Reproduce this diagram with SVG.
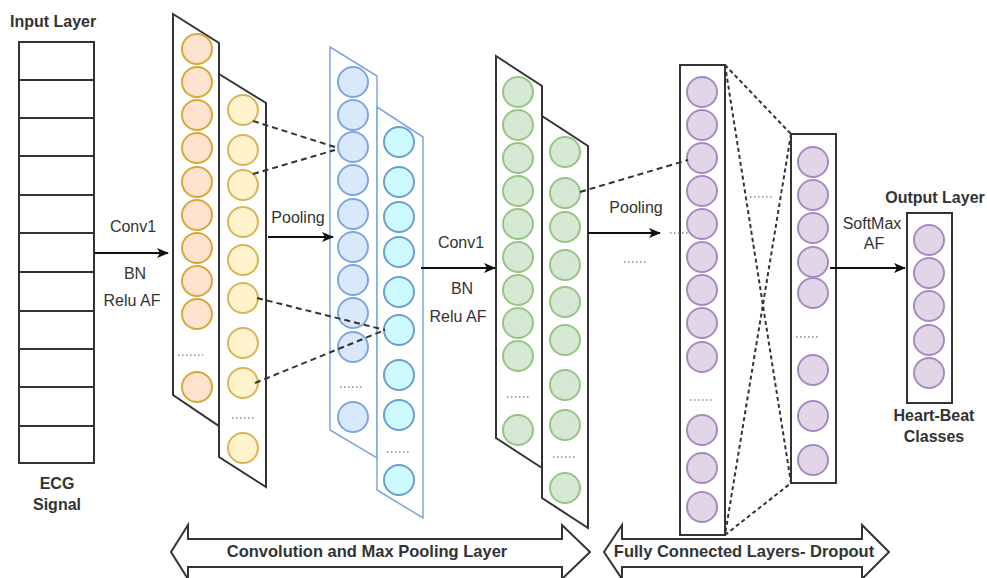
<svg xmlns="http://www.w3.org/2000/svg" width="987" height="578" viewBox="0 0 987 578">
  <style>
    .frame { fill: #ffffff; stroke: #333333; stroke-width: 2; }
    .bframe { fill: #ffffff; stroke: #7ea6e0; stroke-width: 1.5; }
    .grid { stroke: #333333; stroke-width: 2; fill: none; }
    .c-or { fill: #fde3cf; stroke: #d6a838; stroke-width: 2; }
    .c-ye { fill: #fff2cc; stroke: #d6b656; stroke-width: 2; }
    .c-bl { fill: #dae8fc; stroke: #7ea6e0; stroke-width: 2; }
    .c-cy { fill: #ccfaff; stroke: #6c9ecf; stroke-width: 2; }
    .c-gr { fill: #d5e8d4; stroke: #97c583; stroke-width: 2; }
    .c-pu { fill: #e1d5e7; stroke: #a68bc0; stroke-width: 2; }
    .dots { stroke: #888888; stroke-width: 1.3; stroke-dasharray: 1.5 2.5; fill: none; }
    .arrow { stroke: #111111; stroke-width: 2; fill: none; marker-end: url(#head); }
    .dash { stroke: #333333; stroke-width: 2; stroke-dasharray: 6 4; fill: none; }
    .dash2 { stroke: #333333; stroke-width: 2; stroke-dasharray: 4 3; fill: none; }
    .band { fill: #ffffff; stroke: #333333; stroke-width: 2; }
    text { font-family: "Liberation Sans", Arial, sans-serif; fill: #333333; }
    .lbl { font-size: 16px; }
    .ttl { font-size: 16px; font-weight: bold; }
    .band-t { font-size: 16.5px; font-weight: bold; }
  </style>
  <defs>
    <marker id="head" markerWidth="12" markerHeight="10" refX="11" refY="5" orient="auto" markerUnits="userSpaceOnUse">
      <path d="M0,0 L12,5 L0,10 L3,5 z" fill="#111111"/>
    </marker>
  </defs>

  <!-- input layer: ECG signal buffer -->
  <g id="input-layer">
    <text class="ttl" x="10" y="27">Input Layer</text>
    <rect class="grid" x="19" y="42" width="75" height="421"/>
    <path class="grid" d="M19,80H94M19,118H94M19,156H94M19,195H94M19,233H94M19,272H94M19,311H94M19,349H94M19,387H94M19,426H94"/>
    <text class="ttl" x="57" y="489" text-anchor="middle">ECG</text>
    <text class="ttl" x="57" y="510" text-anchor="middle">Signal</text>
  </g>

  <!-- first convolution block -->
  <g id="conv1-a">
    <polygon class="frame" points="173,14 219,43 219,426 173,395"/>
    <g class="c-or">
      <circle cx="197" cy="49" r="15"/><circle cx="197" cy="82" r="15"/><circle cx="197" cy="115" r="15"/>
      <circle cx="197" cy="148" r="15"/><circle cx="197" cy="182" r="15"/><circle cx="197" cy="215" r="15"/>
      <circle cx="197" cy="248" r="15"/><circle cx="197" cy="281" r="15"/><circle cx="197" cy="314" r="15"/>
      <circle cx="197" cy="387" r="15"/>
    </g>
    <path class="dots" d="M178,355H203"/>
  </g>
  <g id="conv1-b">
    <polygon class="frame" points="219,74 266,103 266,487 219,457"/>
    <g class="c-ye">
      <circle cx="243" cy="110" r="15"/><circle cx="243" cy="150" r="15"/><circle cx="243" cy="185" r="15"/>
      <circle cx="243" cy="222" r="15"/><circle cx="243" cy="260" r="15"/><circle cx="243" cy="298" r="15"/>
      <circle cx="243" cy="343" r="15"/><circle cx="243" cy="383" r="15"/><circle cx="243" cy="448" r="15"/>
    </g>
    <path class="dots" d="M232,418H256"/>
  </g>

  <!-- first pooling block -->
  <g id="pool1-a">
    <polygon class="bframe" points="330,47 377,76 377,458 330,430"/>
    <g class="c-bl">
      <circle cx="353" cy="82" r="15"/><circle cx="353" cy="115" r="15"/><circle cx="353" cy="147" r="15"/>
      <circle cx="353" cy="180" r="15"/><circle cx="353" cy="214" r="15"/><circle cx="353" cy="247" r="15"/>
      <circle cx="353" cy="280" r="15"/><circle cx="353" cy="313" r="15"/><circle cx="353" cy="347" r="15"/>
      <circle cx="353" cy="417" r="15"/>
    </g>
    <path class="dots" d="M340,387H364"/>
  </g>
  <g id="pool1-b">
    <polygon class="bframe" points="377,107 423,137 423,518 377,490"/>
    <g class="c-cy">
      <circle cx="399" cy="142" r="15"/><circle cx="399" cy="182" r="15"/><circle cx="399" cy="217" r="15"/>
      <circle cx="399" cy="252" r="15"/><circle cx="399" cy="292" r="15"/><circle cx="399" cy="330" r="15"/>
      <circle cx="399" cy="375" r="15"/><circle cx="399" cy="415" r="15"/><circle cx="399" cy="480" r="15"/>
    </g>
    <path class="dots" d="M387,452H411"/>
  </g>

  <!-- second convolution block -->
  <g id="conv2-a">
    <polygon class="frame" points="496,56 542,86 542,468 496,438"/>
    <g class="c-gr">
      <circle cx="518" cy="92" r="15"/><circle cx="518" cy="125" r="15"/><circle cx="518" cy="158" r="15"/>
      <circle cx="518" cy="191" r="15"/><circle cx="518" cy="224" r="15"/><circle cx="518" cy="257" r="15"/>
      <circle cx="518" cy="290" r="15"/><circle cx="518" cy="323" r="15"/><circle cx="518" cy="356" r="15"/>
      <circle cx="518" cy="430" r="15"/>
    </g>
    <path class="dots" d="M507,397H531"/>
  </g>
  <g id="conv2-b">
    <polygon class="frame" points="542,116 588,146 588,528 542,498"/>
    <g class="c-gr">
      <circle cx="565" cy="152" r="15"/><circle cx="565" cy="193" r="15"/><circle cx="565" cy="227" r="15"/>
      <circle cx="565" cy="265" r="15"/><circle cx="565" cy="302" r="15"/><circle cx="565" cy="340" r="15"/>
      <circle cx="565" cy="385" r="15"/><circle cx="565" cy="425" r="15"/><circle cx="565" cy="488" r="15"/>
    </g>
    <path class="dots" d="M553,457H577"/>
  </g>

  <!-- fully connected layers -->
  <g id="fc1">
    <rect class="frame" x="680" y="65" width="45" height="470"/>
    <g class="c-pu">
      <circle cx="702" cy="92" r="15"/><circle cx="702" cy="125" r="15"/><circle cx="702" cy="158" r="15"/>
      <circle cx="702" cy="191" r="15"/><circle cx="702" cy="224" r="15"/><circle cx="702" cy="257" r="15"/>
      <circle cx="702" cy="290" r="15"/><circle cx="702" cy="323" r="15"/><circle cx="702" cy="357" r="15"/>
      <circle cx="702" cy="430" r="15"/><circle cx="702" cy="468" r="15"/><circle cx="702" cy="507" r="15"/>
    </g>
    <path class="dots" d="M690,400H714"/>
  </g>
  <g id="fc2">
    <rect class="frame" x="791" y="134" width="45" height="349"/>
    <g class="c-pu">
      <circle cx="813" cy="162" r="15"/><circle cx="813" cy="195" r="15"/><circle cx="813" cy="228" r="15"/>
      <circle cx="813" cy="262" r="15"/><circle cx="813" cy="293" r="15"/><circle cx="813" cy="370" r="15"/>
      <circle cx="813" cy="416" r="15"/><circle cx="813" cy="460" r="15"/>
    </g>
    <path class="dots" d="M796,337H819"/>
  </g>

  <!-- output layer -->
  <g id="output-layer">
    <text class="ttl" x="935" y="203" text-anchor="middle">Output Layer</text>
    <rect class="frame" x="907" y="213" width="45" height="190"/>
    <g class="c-pu">
      <circle cx="929" cy="240" r="15"/><circle cx="929" cy="273" r="15"/><circle cx="929" cy="306" r="15"/>
      <circle cx="929" cy="340" r="15"/><circle cx="929" cy="373" r="15"/>
    </g>
    <text class="ttl" x="934" y="421" text-anchor="middle">Heart-Beat</text>
    <text class="ttl" x="934" y="442" text-anchor="middle">Classes</text>
  </g>

  <!-- connectors -->
  <g id="connectors">
    <path class="arrow" d="M94,253H168"/>
    <path class="arrow" d="M268,237H333"/>
    <path class="arrow" d="M421,268H495"/>
    <path class="arrow" d="M588,233H660"/>
    <path class="arrow" d="M830,268H905"/>

    <path class="dash" d="M253,121L335,147"/>
    <path class="dash" d="M253,174L335,150"/>
    <path class="dash" d="M257,298L385,330"/>
    <path class="dash" d="M255,383L385,330"/>
    <path class="dash" d="M580,192L688,160"/>

    <path class="dash2" d="M725,65L791,134"/>
    <path class="dash2" d="M725,65L791,483"/>
    <path class="dash2" d="M791,134L725,535"/>
    <path class="dash2" d="M725,535L791,483"/>

    <path class="dots" d="M670,233H690"/>
    <path class="dots" d="M624,262H648"/>
    <path class="dots" d="M750,197H774"/>

    <text class="lbl" x="133" y="232" text-anchor="middle">Conv1</text>
    <text class="lbl" x="135" y="279" text-anchor="middle">BN</text>
    <text class="lbl" x="132" y="306" text-anchor="middle">Relu AF</text>
    <text class="lbl" x="298" y="223" text-anchor="middle">Pooling</text>
    <text class="lbl" x="461" y="248" text-anchor="middle">Conv1</text>
    <text class="lbl" x="462" y="294" text-anchor="middle">BN</text>
    <text class="lbl" x="458" y="322" text-anchor="middle">Relu AF</text>
    <text class="lbl" x="636" y="213" text-anchor="middle">Pooling</text>
    <text class="lbl" x="872" y="229" text-anchor="middle">SoftMax</text>
    <text class="lbl" x="874" y="249" text-anchor="middle">AF</text>
  </g>

  <!-- section bands -->
  <g id="band-conv">
    <polygon class="band" points="171,552 188,525 188,539 562,539 562,525 590,552 562,579 562,567 188,567 188,579"/>
    <text class="band-t" x="367" y="557" text-anchor="middle">Convolution and Max Pooling Layer</text>
  </g>
  <g id="band-fc">
    <polygon class="band" points="604,552 622,525 622,539 862,539 862,525 889,552 862,579 862,567 622,567 622,579"/>
    <text class="band-t" x="744" y="557" text-anchor="middle">Fully Connected Layers- Dropout</text>
  </g>
</svg>
